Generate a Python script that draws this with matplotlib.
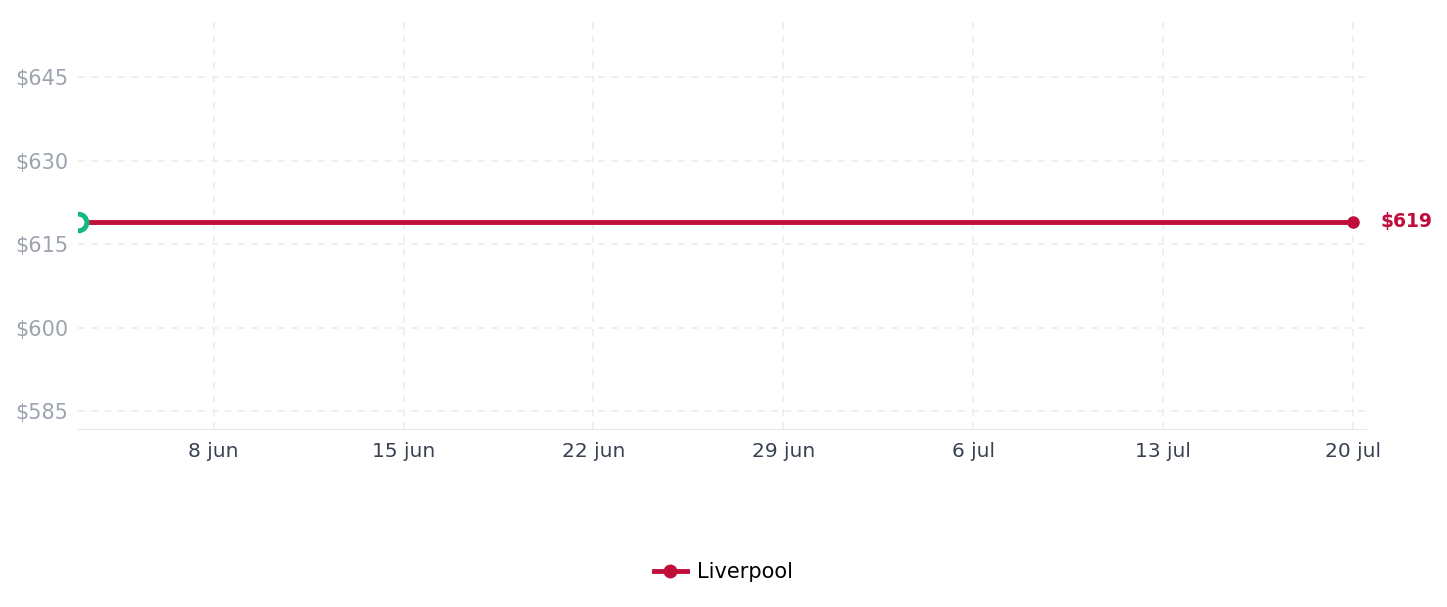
import matplotlib
matplotlib.use('Agg')
import matplotlib.pyplot as plt
import matplotlib.dates as mdates
from datetime import date

# data
dates = [date(2025, 6, 3), date(2025, 7, 20)]
prices = [619, 619]
series_name = 'Liverpool'
yticks = [585, 600, 615, 630, 645]
xticks = [date(2025, 6, 8), date(2025, 6, 15), date(2025, 6, 22), date(2025, 6, 29),
          date(2025, 7, 6), date(2025, 7, 13), date(2025, 7, 20)]
xticklabels = ['8 jun', '15 jun', '22 jun', '29 jun', '6 jul', '13 jul', '20 jul']

red = '#C00D3A'
green = '#10B981'

fig = plt.figure(figsize=(14.47, 6.07), dpi=100)
ax = fig.add_axes([0.0539, 0.2932, 0.8901, 0.6818])

xd = mdates.date2num(dates)
ax.plot(xd, prices, color=red, lw=3.5, zorder=3)
ax.plot(xd[-1], prices[-1], 'o', color=red, markersize=8, zorder=4)
ax.plot(xd[0], prices[0], 'o', markerfacecolor='white', markeredgecolor=green,
        markeredgewidth=3.5, markersize=12, zorder=5)
ax.annotate('$%d' % prices[-1], (xd[-1], prices[-1]), xytext=(20, 0), textcoords='offset points',
            color=red, fontsize=13.5, fontweight='bold', va='center', ha='left', annotation_clip=False)

ax.set_xlim(xd[0], mdates.date2num(date(2025, 7, 20)) + 0.48)
ax.set_ylim(581.8, 656.1)
ax.set_yticks(yticks)
ax.set_yticklabels(['$%d' % v for v in yticks])
ax.set_xticks(mdates.date2num(xticks))
ax.set_xticklabels(xticklabels)

ax.grid(True, color='#ececec', linestyle=(0, (4, 4)), lw=1.2)
ax.tick_params(axis='both', length=0)
ax.tick_params(axis='y', colors='#9CA3AF', pad=7, labelsize=15)
ax.tick_params(axis='x', colors='#374151', pad=9, labelsize=14.5)
for s in ['top', 'right', 'left']:
    ax.spines[s].set_visible(False)
ax.spines['bottom'].set_color('#e5e7eb')

h, = ax.plot([], [], color=red, lw=3.5, marker='o', markersize=9)
fig.legend([h], [series_name], loc='center', bbox_to_anchor=(0.5, 0.057), frameon=False,
           fontsize=15, handlelength=1.6, handletextpad=0.5)

fig.savefig('out.png', dpi=100)
